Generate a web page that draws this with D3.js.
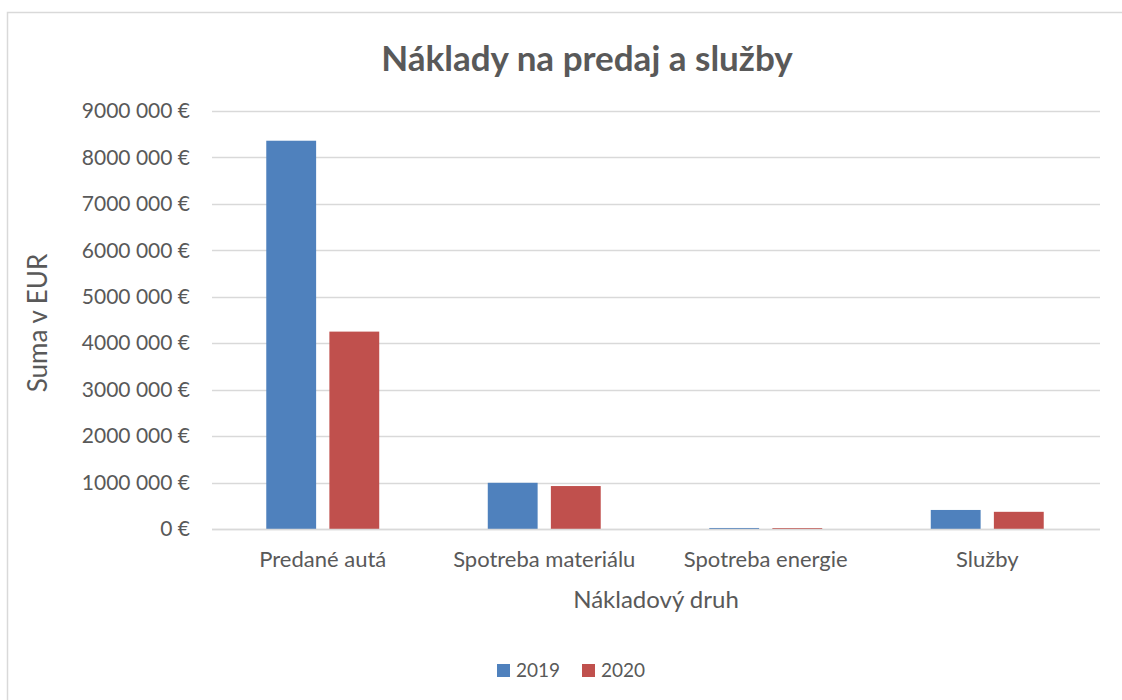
<!DOCTYPE html>
<html><head><meta charset="utf-8">
<script src="https://cdn.jsdelivr.net/npm/d3@7"></script>
<style>body{margin:0;background:#fff}svg{display:block}text{font-family:Lato,"Open Sans",sans-serif;fill:#595959}</style>
</head><body><svg id="c" width="1122" height="700"></svg>
<script>
const categories = ["Predané autá","Spotreba materiálu","Spotreba energie","Služby"];
const seriesNames = ["2019","2020"];
const values2019 = [8360000, 995000, 22000, 410000];
const values2020 = [4250000, 925000, 20000, 370000];
const tickValues = [0,1000000,2000000,3000000,4000000,5000000,6000000,7000000,8000000,9000000];
const tickLabels = ["0 €","1000 000 €","2000 000 €","3000 000 €","4000 000 €","5000 000 €","6000 000 €","7000 000 €","8000 000 €","9000 000 €"];
const colors = ["#4F81BD","#C0504D"];
const title = "Náklady na predaj a služby";
const xTitle = "Nákladový druh";
const yTitle = "Suma v EUR";

const svg = d3.select("#c");
svg.append("rect").attr("x",7.5).attr("y",12.5).attr("width",1140).attr("height",720)
  .attr("fill","#fff").attr("stroke","#d9d9d9").attr("stroke-width",1.5);

const L=212, R=1098, T=111, B=529;
const y = d3.scaleLinear().domain([0,9000000]).range([B,T]);
const x0 = d3.scaleBand().domain(categories).range([L,R]).padding(0);
const x1 = d3.scaleBand().domain(seriesNames).range([0,x0.bandwidth()]).paddingInner(0.21).paddingOuter(0.86);

// gridlines
svg.append("g").selectAll("line").data(tickValues).join("line")
  .attr("x1",L).attr("x2",R+2).attr("y1",d=>Math.round(y(d))+0.5).attr("y2",d=>Math.round(y(d))+0.5)
  .attr("stroke","#d9d9d9").attr("stroke-width",1.3);

// y tick labels
const yAxis = d3.axisLeft(y).tickValues(tickValues).tickFormat((d,i)=>tickLabels[i]).tickSize(0).tickPadding(0);
const ga = svg.append("g").attr("transform",`translate(190,0)`).call(yAxis);
ga.select(".domain").remove();
ga.selectAll("text").attr("font-size","21px").attr("fill","#595959").style("font-family","Lato,'Open Sans',sans-serif");

// bars
const data = categories.map((c,i)=>({c, v:[values2019[i],values2020[i]]}));
const g = svg.append("g");
g.selectAll("g").data(data).join("g").attr("transform",d=>`translate(${x0(d.c)},0)`)
  .selectAll("rect").data(d=>d.v.map((v,j)=>({s:seriesNames[j],v,j}))).join("rect")
  .attr("x",d=>x1(d.s)).attr("width",x1.bandwidth())
  .attr("y",d=>y(d.v)).attr("height",d=>B-y(d.v))
  .attr("fill",d=>colors[d.j]);

// baseline
svg.append("line").attr("x1",L).attr("x2",R+2).attr("y1",B+0.5).attr("y2",B+0.5).attr("stroke","#d9d9d9").attr("stroke-width",1.3);

// x labels
const xAxis = d3.axisBottom(x0).tickSize(0).tickPadding(0);
const gx = svg.append("g").attr("transform",`translate(0,${B+22})`).call(xAxis);
gx.select(".domain").remove();
gx.selectAll("text").attr("font-size","22px").attr("fill","#595959").attr("dy","0.71em").style("font-family","Lato,'Open Sans',sans-serif");

// titles
svg.append("text").attr("x",587).attr("y",71).attr("text-anchor","middle").attr("font-size","35px").attr("font-weight","bold").text(title);
svg.append("text").attr("x",656).attr("y",608).attr("text-anchor","middle").attr("font-size","24px").text(xTitle);
svg.append("text").attr("transform","translate(47,323) rotate(-90)").attr("text-anchor","middle").attr("font-size","26px").text(yTitle);

// legend
const lg = svg.append("g");
const lx = [497, 582];
seriesNames.forEach((s,i)=>{
  lg.append("rect").attr("x",lx[i]).attr("y",664).attr("width",13).attr("height",13).attr("fill",colors[i]);
  lg.append("text").attr("x",lx[i]+19).attr("y",677).attr("font-size","19px").text(s);
});
</script></body></html>
